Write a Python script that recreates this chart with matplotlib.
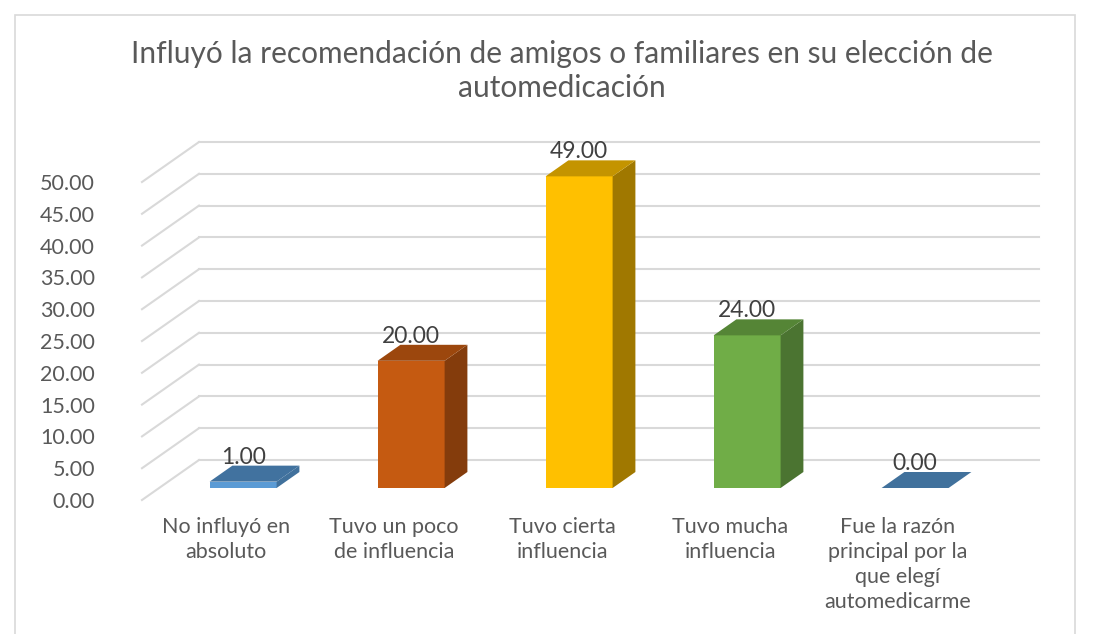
import matplotlib.pyplot as plt
from matplotlib.patches import Polygon, Rectangle

plt.rcParams["font.family"] = ["Lato", "DejaVu Sans"]

categorias = ["No influyó en\nabsoluto", "Tuvo un poco\nde influencia",
              "Tuvo cierta\ninfluencia", "Tuvo mucha\ninfluencia",
              "Fue la razón\nprincipal por la\nque elegí\nautomedicarme"]
valores = [1.00, 20.00, 49.00, 24.00, 0.00]
ticks = [0, 5, 10, 15, 20, 25, 30, 35, 40, 45, 50]
titulo = "Influyó la recomendación de amigos o familiares en su elección de\nautomedicación"

FRENTE = ["#5B9BD5", "#C55A11", "#FFC000", "#70AD47", "#5B9BD5"]
LADO = ["#41719C", "#843C0C", "#A07800", "#4B7431", "#41719C"]
TAPA = ["#41729F", "#9C470D", "#C49400", "#558536", "#41719C"]
GRIS = "#595959"

# escala: x en categorías (168 px por categoría), y en unidades del valor (6.36 px por unidad)
PX_CAT, PX_VAL = 168.0, 6.36
X0, Y0 = 226.0, 500.0
W, H = 1096, 634
DX, DY = 57 / PX_CAT, 40 / PX_VAL        # profundidad de las paredes
F0, F1 = 0.30, 0.70                      # profundidad de las barras
ANCHO = 67 / PX_CAT

fig = plt.figure(figsize=(W / 100, H / 100), dpi=100)
ax = fig.add_axes([0, 0, 1, 1])
ax.set_xlim(-X0 / PX_CAT, (W - X0) / PX_CAT)
ax.set_ylim((Y0 - H) / PX_VAL, Y0 / PX_VAL)
ax.axis("off")

# borde del gráfico
fig.patches.append(Rectangle((15 / W, -0.05), 1060 / W, 1 - 15 / H + 0.05,
                             transform=fig.transFigure, fill=False,
                             edgecolor="#D9D9D9", linewidth=1.2))

# paredes: líneas de cuadrícula
izq, der = -0.5, len(valores) - 0.5
for v in ticks:
    ax.plot([izq + DX, der + DX], [v + DY, v + DY], color="#D9D9D9", lw=1.5, zorder=1)
    ax.plot([izq, izq + DX], [v, v + DY], color="#D9D9D9", lw=1.5, zorder=1)
    ax.text(-0.78, v - 0.3, f"{v:.2f}", ha="right", va="center", fontsize=15.5, color=GRIS)

# barras
xs = [i + F0 * DX for i in range(len(valores))]
ax.bar(xs, valores, width=ANCHO, bottom=F0 * DY, color=FRENTE, zorder=3)
d = (F1 - F0)
for x, v, cl, ct in zip(xs, valores, LADO, TAPA):
    b = F0 * DY
    x1 = x + ANCHO / 2
    x0 = x - ANCHO / 2
    if v > 0:
        ax.add_patch(Polygon([(x1, b), (x1 + d * DX, b + d * DY),
                              (x1 + d * DX, b + v + d * DY), (x1, b + v)],
                             closed=True, facecolor=cl, edgecolor="none", zorder=3))
    ax.add_patch(Polygon([(x0, b + v), (x1, b + v), (x1 + d * DX, b + v + d * DY),
                          (x0 + d * DX, b + v + d * DY)],
                         closed=True, facecolor=ct, edgecolor="none", zorder=3))
    ax.text(x, b + v + d * DY - 0.3, f"{v:.2f}", ha="center", va="bottom",
            fontsize=16.5, color="#404040", zorder=4)

# etiquetas de categoría
for i, c in enumerate(categorias):
    ax.text(i, (Y0 - 517) / PX_VAL, c, ha="center", va="top", fontsize=15.5,
            color=GRIS, linespacing=1.32)

fig.text(562 / W, 1 - 71 / H, titulo, ha="center", va="center", fontsize=21.5,
         color=GRIS, linespacing=1.28)

fig.savefig("out.png", dpi=100)
